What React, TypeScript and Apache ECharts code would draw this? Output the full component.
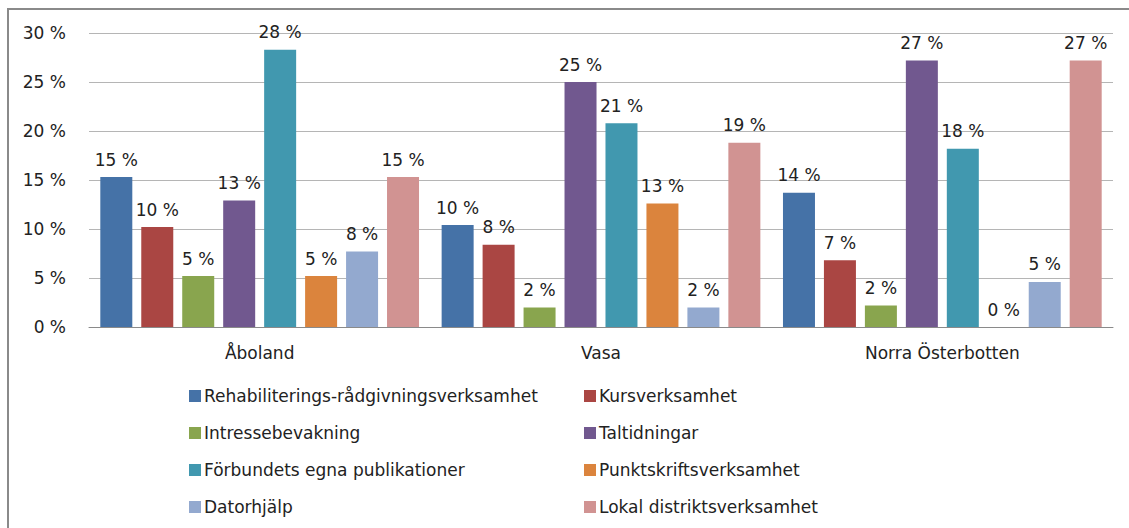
import React, { useEffect, useRef } from "react";
import * as echarts from "echarts";

const categories = ["Åboland", "Vasa", "Norra Österbotten"];
const seriesNames = [
  "Rehabiliterings-rådgivningsverksamhet",
  "Kursverksamhet",
  "Intressebevakning",
  "Taltidningar",
  "Förbundets egna publikationer",
  "Punktskriftsverksamhet",
  "Datorhjälp",
  "Lokal distriktsverksamhet",
];
const rehab = [15.3, 10.4, 13.7];
const kurs = [10.2, 8.4, 6.8];
const intresse = [5.2, 2.0, 2.2];
const taltidningar = [12.9, 25.0, 27.2];
const publikationer = [28.3, 20.8, 18.2];
const punktskrift = [5.2, 12.6, 0];
const dator = [7.7, 2.0, 4.6];
const lokal = [15.3, 18.8, 27.2];
const seriesValues = [rehab, kurs, intresse, taltidningar, publikationer, punktskrift, dator, lokal];
const colors = ["#4572A7", "#AA4643", "#89A54E", "#71588F", "#4198AF", "#DB843D", "#93A9CF", "#D19392"];
const yTicks = [0, 5, 10, 15, 20, 25, 30];

const FONT = "'DejaVu Sans', sans-serif";

export default function App() {
  const ref = useRef<HTMLDivElement>(null);
  useEffect(() => {
    document.body.style.margin = "0";
    const chart = echarts.init(ref.current!, null, { renderer: "svg" });
    const legendCommon = {
      orient: "vertical" as const,
      top: 382,
      itemWidth: 12,
      itemHeight: 12,
      itemGap: 19,
      icon: "rect",
      textStyle: { fontFamily: FONT, fontSize: 17, lineHeight: 18, color: "#222", padding: [0, 0, 0, -2] },
    };
    chart.setOption({
      animation: false,
      color: colors,
      textStyle: { fontFamily: FONT },
      graphic: [
        {
          type: "rect",
          shape: { x: 8, y: 9, width: 1140, height: 540 },
          style: { fill: "none", stroke: "#8a8a8a", lineWidth: 2 },
          silent: true,
        },
      ],
      legend: [
        { ...legendCommon, left: 184, data: [seriesNames[0], seriesNames[2], seriesNames[4], seriesNames[6]] },
        { ...legendCommon, left: 579, data: [seriesNames[1], seriesNames[3], seriesNames[5], seriesNames[7]] },
      ],
      grid: { left: 89, right: 16, top: 33, bottom: 201, containLabel: false },
      xAxis: {
        type: "category",
        data: categories,
        axisLine: { lineStyle: { color: "#8a8a8a", width: 1 } },
        axisTick: { show: false },
        axisLabel: { fontFamily: FONT, fontSize: 17, color: "#222", margin: 17 },
      },
      yAxis: {
        type: "value",
        min: yTicks[0],
        max: yTicks[yTicks.length - 1],
        interval: 5,
        axisLine: { show: false },
        axisTick: { show: false },
        splitLine: { lineStyle: { color: "#b5b5b5", width: 1 } },
        axisLabel: {
          fontFamily: FONT,
          fontSize: 17,
          color: "#222",
          margin: 23,
          formatter: (v: number) => `${v} %`,
        },
      },
      series: seriesNames.map((name, i) => ({
        name,
        type: "bar",
        data: seriesValues[i],
        barWidth: 32,
        barGap: "28%",
        itemStyle: { color: colors[i] },
        label: {
          show: true,
          position: "top",
          distance: 9,
          fontFamily: FONT,
          fontSize: 17,
          color: "#222",
          formatter: (p: any) => `${Math.round(p.value)} %`,
        },
      })),
    });
    return () => chart.dispose();
  }, []);
  return <div ref={ref} style={{ width: 1129, height: 528 }} />;
}
